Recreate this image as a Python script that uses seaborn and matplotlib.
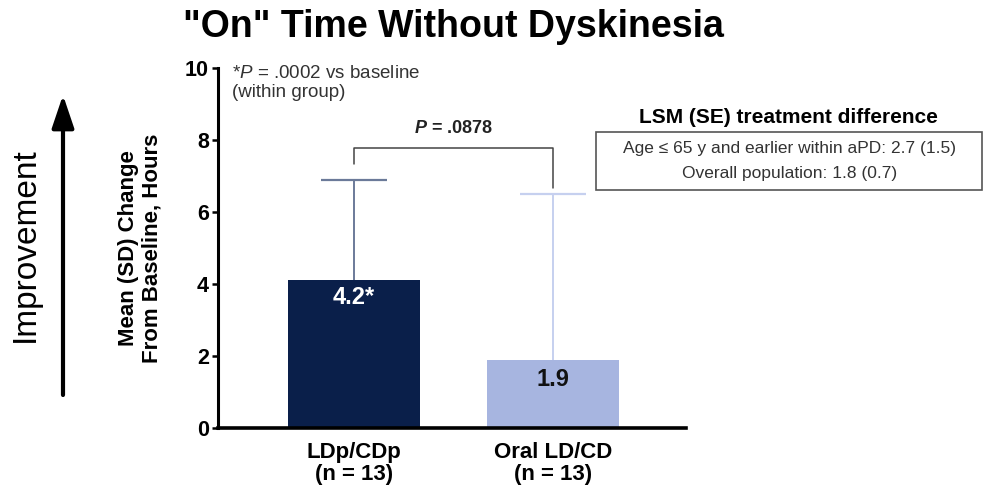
import matplotlib
matplotlib.use("Agg")
import matplotlib.pyplot as plt
from matplotlib.patches import Rectangle
import pandas as pd
import seaborn as sns

# values
groups = ["LDp/CDp\n(n = 13)", "Oral LD/CD\n(n = 13)"]
mean_change = [4.1, 1.9]
sd_upper = [2.8, 4.6]
bar_labels = ["4.2*", "1.9"]
bar_colors = ["#0a1f4a", "#a7b5e0"]
err_colors = ["#6b7a99", "#c6d0ef"]
bracket_y = [7.33, 7.77, 7.77, 6.66]
p_between = "$\\mathbfit{P}$ = .0878"
footnote = "*$\\mathit{P}$ = .0002 vs baseline\n(within group)"
lsm_title = "LSM (SE) treatment difference"
lsm_lines = ["Age \u2264 65 y and earlier within aPD: 2.7 (1.5)",
             "Overall population: 1.8 (0.7)"]

sns.set_style("ticks")
plt.rcParams["font.family"] = ["Liberation Sans", "DejaVu Sans"]
plt.rcParams["mathtext.fontset"] = "custom"
plt.rcParams["mathtext.rm"] = "Liberation Sans"
plt.rcParams["mathtext.it"] = "Liberation Sans:italic"
plt.rcParams["mathtext.bf"] = "Liberation Sans:bold"
plt.rcParams["mathtext.bfit"] = "Liberation Sans:italic:bold"
for key in ["text.color", "axes.labelcolor", "xtick.color", "ytick.color",
            "axes.edgecolor"]:
    plt.rcParams[key] = "black"

df = pd.DataFrame({"group": groups, "change": mean_change})

fig = plt.figure(figsize=(9.84, 4.92), dpi=100)
ax = fig.add_axes([0.2215, 0.130, 0.4756, 0.732])

sns.barplot(data=df, x="group", y="change", hue="group", palette=bar_colors,
            width=0.663, saturation=1, legend=False, linewidth=0, ax=ax,
            zorder=2)

for i in range(len(groups)):
    eb = ax.errorbar(i, mean_change[i], yerr=[[0], [sd_upper[i]]], fmt="none",
                     ecolor=err_colors[i], elinewidth=1.4, capsize=23.8,
                     capthick=1.6, zorder=1)
    # only the upper cap is drawn in the original
    eb[1][0].set_visible(False)

ax.plot([0, 0, 1, 1], bracket_y, color="#444444", lw=1.1)
ax.text(0.5, 8.33, p_between, ha="center", va="center", fontsize=13,
        fontweight="bold", color="#222222")

ax.text(0, 3.62, bar_labels[0], ha="center", va="center", fontsize=17,
        fontweight="bold", color="white")
ax.text(1, 1.36, bar_labels[1], ha="center", va="center", fontsize=17,
        fontweight="bold", color="#111111")

ax.set_xlim(-0.683, 1.668)
ax.set_ylim(0, 10)
ax.set_yticks([0, 2, 4, 6, 8, 10])
ax.set_xlabel("")
ax.set_ylabel("Mean (SD) Change\nFrom Baseline, Hours", fontsize=16,
              fontweight="bold", labelpad=16)
ax.tick_params(axis="y", labelsize=15.5, length=4.5, width=1.8, pad=2)
ax.tick_params(axis="x", labelsize=16, length=0, pad=10)
for lab in ax.get_yticklabels() + ax.get_xticklabels():
    lab.set_fontweight("bold")
for lab in ax.get_xticklabels():
    lab.set_linespacing(1.05)
ax.spines["left"].set_linewidth(2.2)
ax.spines["bottom"].set_linewidth(2.6)
sns.despine(ax=ax)

fig.text(0.4604, 0.945, '"On" Time Without Dyskinesia', ha="center",
         va="center", fontsize=27, fontweight="bold")
fig.text(0.2358, 0.867, footnote, ha="left", va="top", fontsize=13.5,
         color="#333333", linespacing=1.15)

fig.text(0.0254, 0.502, "Improvement", rotation=90, ha="center",
         va="center", fontsize=24)
ax.annotate("", xy=(63, 492 - 95), xytext=(63, 492 - 395),
            xycoords="figure pixels", textcoords="figure pixels",
            arrowprops=dict(arrowstyle="-|>,head_length=0.8,head_width=0.27",
                            lw=3, color="black", mutation_scale=25,
                            shrinkA=0, shrinkB=0))

fig.text(0.801, 0.762, lsm_title, ha="center", va="center", fontsize=15,
         fontweight="bold")
fig.add_artist(Rectangle((0.6057, 0.6138), 0.392, 0.1179,
                         transform=fig.transFigure, fill=False,
                         edgecolor="#555555", lw=1.2))
fig.text(0.802, 0.699, lsm_lines[0], ha="center", va="center",
         fontsize=12.5, color="#333333")
fig.text(0.802, 0.647, lsm_lines[1], ha="center", va="center",
         fontsize=12.5, color="#333333")

fig.savefig("out.png", dpi=100)
